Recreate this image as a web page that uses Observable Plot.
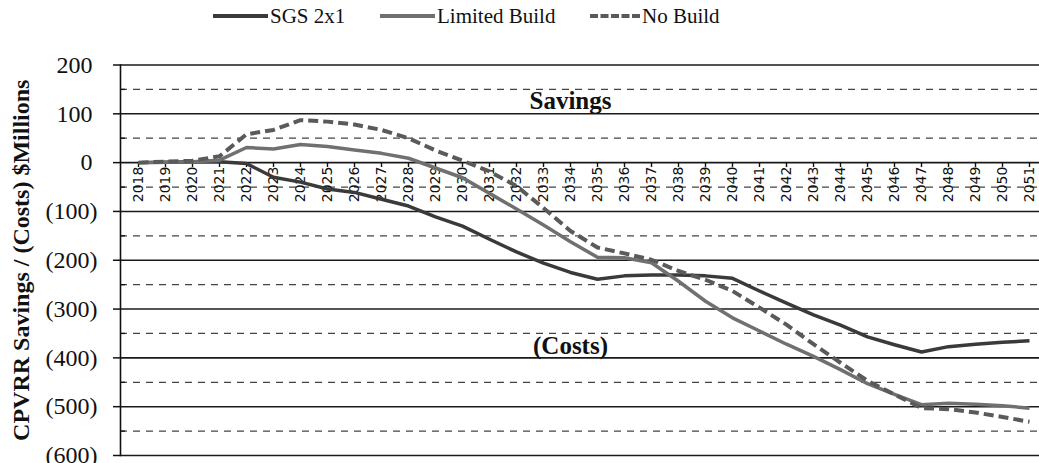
<!DOCTYPE html>
<html><head><meta charset="utf-8">
<script src="https://cdn.jsdelivr.net/npm/d3@7"></script>
<script src="https://cdn.jsdelivr.net/npm/@observablehq/plot@0.6"></script>
<style>
html,body{margin:0;padding:0;background:#fff;overflow:hidden;width:1039px;height:463px}
#legend{position:relative;height:40px;font-family:"Liberation Serif","Times New Roman",serif;font-size:21px;color:#111}
.item{position:absolute;top:4px;display:flex;align-items:center;height:24px;white-space:nowrap}
.sw{width:55px;height:0;margin-right:2px}
#chart svg{max-width:none !important;display:block}
</style></head><body>
<div id="legend"></div>
<div id="chart"></div>
<script>
const years = ["2018","2019","2020","2021","2022","2023","2024","2025","2026","2027","2028","2029","2030","2031","2032","2033","2034","2035","2036","2037","2038","2039","2040","2041","2042","2043","2044","2045","2046","2047","2048","2049","2050","2051"];
const sgs2x1 = [0,1,2,2,-2,-30,-40,-54,-61,-75,-89,-111,-130,-157,-183,-206,-225,-239,-232,-230,-230,-232,-237,-263,-288,-312,-333,-357,-373,-388,-377,-372,-368,-365];
const limitedBuild = [0,1,2,5,31,28,37,33,26,19,9,-11,-31,-63,-95,-128,-162,-194,-195,-205,-243,-284,-318,-345,-372,-397,-424,-453,-475,-496,-493,-495,-498,-503];
const noBuild = [0,2,4,13,58,67,87,84,78,67,50,25,4,-18,-48,-93,-140,-174,-186,-199,-222,-240,-263,-297,-332,-372,-410,-447,-475,-503,-505,-512,-521,-531];
const seriesNames = ["SGS 2x1","Limited Build","No Build"];
const majorTicks = [200,100,0,-100,-200,-300,-400,-500,-600];
const minorTicks = [150,50,-50,-150,-250,-350,-450,-550];
const annotations = [
  {year:"2034", value:127, label:"Savings"},
  {year:"2034", value:-375, label:"(Costs)"}
];

const styles = {
  "SGS 2x1": {stroke:"#3a3a3a", width:3.5, dash:null},
  "Limited Build": {stroke:"#707070", width:3.5, dash:null},
  "No Build": {stroke:"#5a5a5a", width:4, dash:"10,5"}
};
const seriesValues = [sgs2x1, limitedBuild, noBuild];
const data = seriesNames.flatMap((name, s) => years.map((yr, i) => ({year: yr, value: seriesValues[s][i], series: name})));

// legend
const legend = document.getElementById("legend");
const legendLeft = [213, 380, 590];
seriesNames.forEach((name, i) => {
  const st = styles[name];
  const it = document.createElement("div");
  it.className = "item";
  it.style.left = legendLeft[i] + "px";
  const sw = document.createElement("div");
  sw.className = "sw";
  sw.style.width = (i === 2 ? 50 : 55) + "px";
  sw.style.borderTop = `4px ${st.dash ? "dashed" : "solid"} ${st.stroke}`;
  it.appendChild(sw);
  const t = document.createElement("span");
  t.textContent = name;
  it.appendChild(t);
  legend.appendChild(it);
});

const fmt = d => d < 0 ? `(${-d})` : `${d}`;
const serif = "Liberation Serif, Times New Roman, serif";

const chart = Plot.plot({
  width: 1046,
  height: 423,
  marginLeft: 120,
  marginRight: 0,
  marginTop: 24.5,
  marginBottom: 8,
  x: {type: "point", domain: years, padding: 0.5, axis: null},
  y: {domain: [-600, 200], axis: null},
  style: {background: "#fff", overflow: "visible"},
  marks: [
    Plot.ruleY(minorTicks, {stroke: "#444", strokeWidth: 1.3, strokeDasharray: "7,6"}),
    Plot.ruleY(majorTicks, {stroke: "#1a1a1a", strokeWidth: 1.6}),
    Plot.frame({anchor: "left", stroke: "#111", strokeWidth: 1.6}),
    Plot.axisY({ticks: majorTicks, tickSize: 7, text: null, label: null, stroke: "#111", strokeWidth: 1.5}),
    Plot.axisY({ticks: minorTicks, tickSize: 5, dx: 5, text: null, label: null, stroke: "#111", strokeWidth: 1.3}),
    Plot.axisY({ticks: majorTicks.filter(d => d < 0), tickSize: 0, tickPadding: 23, label: null, tickFormat: fmt, fontSize: 24, fontFamily: serif, fill: "#111"}),
    Plot.axisY({ticks: majorTicks.filter(d => d >= 0), tickSize: 0, tickPadding: 28, label: null, tickFormat: fmt, fontSize: 24, fontFamily: serif, fill: "#111"}),
    Plot.text(["CPVRR Savings / (Costs) $Millions"], {frameAnchor: "left", rotate: -90, textAnchor: "middle", lineAnchor: "middle", dx: -99, fontSize: 24, fontWeight: "bold", fontFamily: serif, fill: "#111"}),
    Plot.ruleX(years, {x: d => d, y1: 0, y2: -10, stroke: "#111", strokeWidth: 1.4}),
    Plot.text(years, {x: d => d, y: 0, text: d => d, rotate: -90, textAnchor: "end", dy: 4, fontSize: 14, fontFamily: "DejaVu Sans", fill: "#111"}),
    Plot.text(annotations, {x: "year", y: "value", text: "label", fontSize: 25, fontWeight: "bold", fontFamily: serif, fill: "#111"}),
    ...seriesNames.map(name => Plot.line(data.filter(d => d.series === name), {
      x: "year", y: "value", stroke: styles[name].stroke, strokeWidth: styles[name].width,
      strokeDasharray: styles[name].dash, strokeLinejoin: "round", strokeLinecap: "butt"
    }))
  ]
});
document.getElementById("chart").appendChild(chart);
</script>
</body></html>
